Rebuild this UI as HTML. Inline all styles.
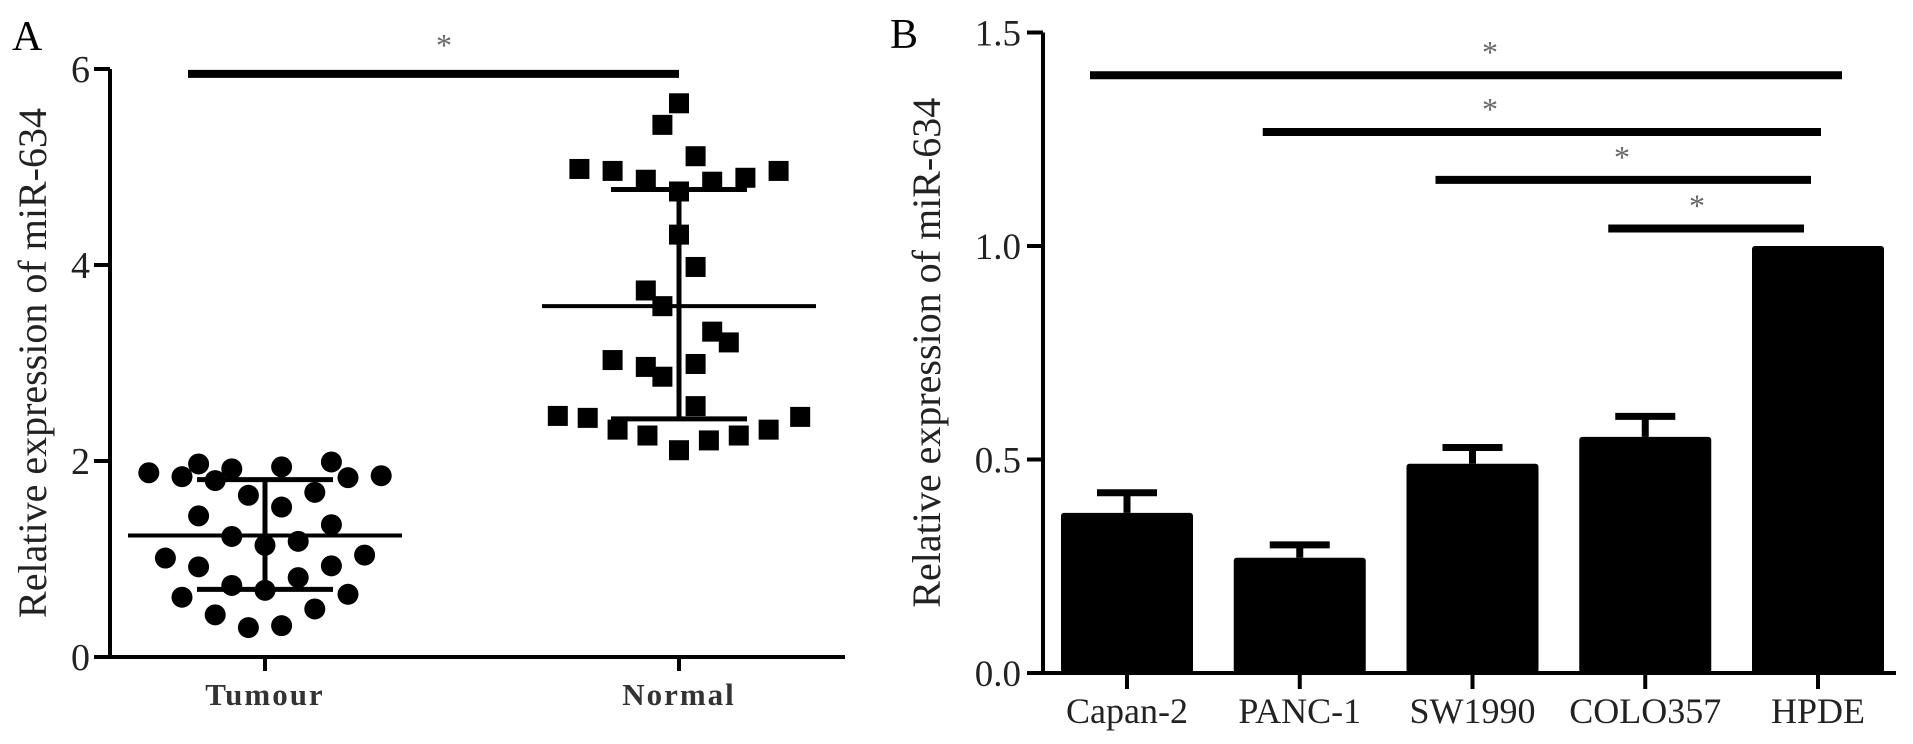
<!DOCTYPE html>
<html><head><meta charset="utf-8"><style>
html,body{margin:0;padding:0;background:#fff;}
svg{display:block;font-family:"Liberation Serif",serif;}
</style></head><body>
<svg id="fig" width="1913" height="744" viewBox="0 0 1913 744" xmlns="http://www.w3.org/2000/svg"></svg>
<script>
// ---- Panel A data ----
const groupsA = ["Tumour", "Normal"];
const yTicksA = [0, 2, 4, 6];
const tumourSlots = [-7,-5,-4,-3,-2,-1,1,1,3,4,5,7,-4,-2,0,2,4,-6,-4,4,6,-2,0,2,-5,5,-3,3,-1,1];
const tumourValues = [1.88,1.84,1.97,1.80,1.92,1.65,1.94,1.53,1.68,1.99,1.83,1.85,1.44,1.23,1.14,1.18,1.35,1.01,0.92,0.93,1.04,0.73,0.68,0.81,0.61,0.64,0.43,0.49,0.30,0.32];
const normalSlots = [0,-1,1,-6,-4,-2,0,2,4,6,0,1,-2,-1,2,3,-4,-2,-1,1,1,-7.3,-5.5,-3.7,-1.9,0,1.8,3.6,5.4,7.3];
const normalValues = [5.65,5.43,5.11,4.98,4.96,4.87,4.75,4.85,4.89,4.96,4.31,3.98,3.74,3.58,3.32,3.21,3.03,2.96,2.86,2.99,2.56,2.46,2.44,2.32,2.26,2.11,2.21,2.26,2.32,2.45];
const meansA = [1.24, 3.58];
const sdLowA = [0.69, 2.43];
const sdHighA = [1.81, 4.77];
const sigA = [5.95];

// ---- Panel B data ----
const cellLines = ["Capan-2", "PANC-1", "SW1990", "COLO357", "HPDE"];
const barValues = [0.375, 0.27, 0.49, 0.553, 1.0];
const barErrors = [0.047, 0.03, 0.038, 0.048, 0.0];
const yTicksB = [0.0, 0.5, 1.0, 1.5];
const yTickLabelsB = ["0.0", "0.5", "1.0", "1.5"];
const sigFromB = [0, 1, 2, 3];
const sigLevelsB = [1.40, 1.267, 1.155, 1.041];

const NS = "http://www.w3.org/2000/svg";
const svg = document.getElementById("fig");
function mk(tag, attrs, parent) {
  const e = document.createElementNS(NS, tag);
  for (const k in attrs) e.setAttribute(k, attrs[k]);
  (parent || svg).appendChild(e);
  return e;
}

// ===== Panel A =====
const gA = mk("g", {});


const axA = { x0: 110, y0: 657, perUnit: 98, xEnd: 845 };
const yA = v => axA.y0 - v * axA.perUnit;
const xA = i => [265, 679][i];
const slotW = 16.6;

let t = mk("text", {x: 12, y: 50, "font-size": 42}, gA); t.textContent = "A";
 

let ax = mk("path", {d: `M${axA.x0} ${yA(6)} V${axA.y0} M${axA.x0-16} ${axA.y0} H${axA.xEnd}`, stroke: "#000", "stroke-width": 4, fill: "none"}, gA);
 
yTicksA.forEach(v => {
  const tk = mk("line", {x1: axA.x0-16, x2: axA.x0, y1: yA(v), y2: yA(v), stroke: "#000", "stroke-width": 4}, gA);
   
  const tl = mk("text", {x: axA.x0-20, y: yA(v)+13, "font-size": 38, "text-anchor": "end", fill: "#222"}, gA);
  tl.textContent = v;
   
});
let yt = mk("text", {transform: `translate(46 ${yA(3)}) rotate(-90)`, "font-size": 40, "text-anchor": "middle", fill: "#222"}, gA);
yt.textContent = "Relative expression of miR-634";
 

groupsA.forEach((g, i) => {
  const tk = mk("line", {x1: xA(i), x2: xA(i), y1: axA.y0, y2: axA.y0+14, stroke: "#000", "stroke-width": 4}, gA);
   
  const tl = mk("text", {x: xA(i), y: axA.y0+48, "font-size": 31, "font-weight": "bold", "letter-spacing": 2, "text-anchor": "middle", fill: "#333"}, gA);
  tl.textContent = g;
   
});

tumourValues.forEach((v, k) => {
  const c = mk("circle", {cx: xA(0) + tumourSlots[k]*slotW, cy: yA(v), r: 10.5, fill: "#000"}, gA);
   
});
normalValues.forEach((v, k) => {
  const s = mk("rect", {x: xA(1) + normalSlots[k]*slotW - 10, y: yA(v) - 10, width: 20, height: 20, fill: "#000"}, gA);
   
});
groupsA.forEach((g, i) => {
  const cx = xA(i);
  const m = mk("line", {x1: cx-137, x2: cx+137, y1: yA(meansA[i]), y2: yA(meansA[i]), stroke: "#000", "stroke-width": 4}, gA);
   
  const e = mk("path", {d: `M${cx} ${yA(sdLowA[i])} V${yA(sdHighA[i])} M${cx-68} ${yA(sdLowA[i])} H${cx+68} M${cx-68} ${yA(sdHighA[i])} H${cx+68}`, stroke: "#000", "stroke-width": 5, fill: "none"}, gA);
   
});
let sl = mk("line", {x1: 188, x2: xA(1), y1: yA(sigA[0]), y2: yA(sigA[0]), stroke: "#000", "stroke-width": 8}, gA);
 
let st = mk("text", {x: 444, y: yA(sigA[0]) - 18, "font-size": 32, "text-anchor": "middle", fill: "#666"}, gA);
st.textContent = "*";
 

// ===== Panel B =====
const gB = mk("g", {});


const axB = { x0: 1043, y0: 673, perUnit: 427, xEnd: 1896 };
const yB = v => axB.y0 - v * axB.perUnit;
const xB = i => 1127 + i * 172.75;
const barW = 132;

t = mk("text", {x: 890, y: 48, "font-size": 42}, gB); t.textContent = "B";
 

ax = mk("path", {d: `M${axB.x0} ${yB(1.5)} V${axB.y0} M${axB.x0-16} ${axB.y0} H${axB.xEnd}`, stroke: "#000", "stroke-width": 4, fill: "none"}, gB);
 
yTicksB.forEach((v, i) => {
  const tk = mk("line", {x1: axB.x0-16, x2: axB.x0, y1: yB(v), y2: yB(v), stroke: "#000", "stroke-width": 4}, gB);
   
  const tl = mk("text", {x: axB.x0-22, y: yB(v)+13, "font-size": 37, "text-anchor": "end", fill: "#222"}, gB);
  tl.textContent = yTickLabelsB[i];
   
});
yt = mk("text", {transform: `translate(940 ${yB(0.75)}) rotate(-90)`, "font-size": 40, "text-anchor": "middle", fill: "#222"}, gB);
yt.textContent = "Relative expression of miR-634";
 

cellLines.forEach((c, i) => {
  const cx = xB(i);
  const b = mk("rect", {x: cx - barW/2, y: yB(barValues[i]), width: barW, height: axB.y0 - yB(barValues[i]), rx: 3, fill: "#000"}, gB);
   
  if (barErrors[i] > 0) {
    const top = yB(barValues[i] + barErrors[i]);
    const e = mk("path", {d: `M${cx} ${yB(barValues[i])} V${top} M${cx-30} ${top} H${cx+30}`, stroke: "#000", "stroke-width": 7, fill: "none"}, gB);
     
  }
  const tk = mk("line", {x1: cx, x2: cx, y1: axB.y0, y2: axB.y0+16, stroke: "#000", "stroke-width": 4}, gB);
   
  const tl = mk("text", {x: cx, y: axB.y0+50, "font-size": 36, "text-anchor": "middle", fill: "#222"}, gB);
  tl.textContent = c;
   
});

const sigEndB = [1842, 1821, 1811, 1804];
const starXB = [1490, 1490, 1622, 1697];
sigFromB.forEach((fi, k) => {
  const y = yB(sigLevelsB[k]);
  const l = mk("line", {x1: xB(fi) - 37, x2: sigEndB[k], y1: y, y2: y, stroke: "#000", "stroke-width": 8}, gB);
   
  const s = mk("text", {x: starXB[k], y: y - 12, "font-size": 32, "text-anchor": "middle", fill: "#666"}, gB);
  s.textContent = "*";
   
});
</script>
</body></html>
